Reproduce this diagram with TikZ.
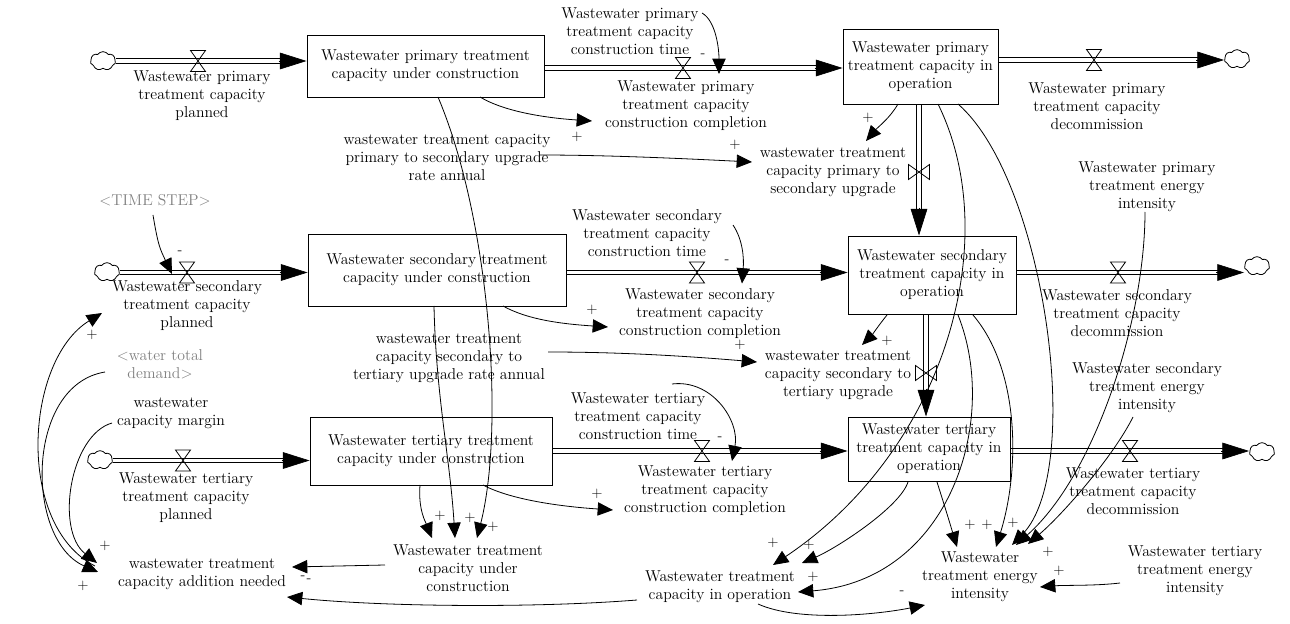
\documentclass[tikz,border=0pt]{standalone}
\usetikzlibrary{arrows.meta,calc,shapes.symbols}
\newcommand{\hpipe}[2]{%
  \draw[pipeline] ($#1+(0,-2.3)$) -- ($#2+(0,-2.3)$);
  \draw[pipeline] ($#1+(0,2.3)$) -- ($#2+(0,2.3)$);}
\newcommand{\vpipe}[2]{%
  \draw[pipeline] ($#1+(-2.3,0)$) -- ($#2+(-2.3,0)$);
  \draw[pipeline] ($#1+(2.3,0)$) -- ($#2+(2.3,0)$);}
\begin{document}
\begin{tikzpicture}[x=0.75pt,y=-0.75pt,
  txt/.style={align=center,font=\fontsize{11.8}{13.5}\selectfont,inner sep=0pt},
  graytxt/.style={txt,text=black!50},
  stock/.style={txt,draw,line width=0.7pt},
  pol/.style={font=\fontsize{11}{12}\selectfont,inner sep=0pt},
  pipeline/.style={line width=0.6pt},
  fhead/.style={line width=0.5pt,-{Triangle[length=20pt,width=12.5pt]}},
  link/.style={line width=0.6pt,-{Triangle[length=11.5pt,width=10pt]}},
  cloudy/.style={cloud,cloud puffs=7,cloud puff arc=110,draw,line width=0.6pt,minimum width=19pt,minimum height=14pt,inner sep=0pt,aspect=1.35},
  valveh/.pic={\draw[line width=0.6pt] (-7.5,-10.5) -- (7.5,-10.5) -- (-7.5,10.5) -- (7.5,10.5) -- cycle;},
  valvev/.pic={\draw[line width=0.6pt] (-10.5,-7.5) -- (-10.5,7.5) -- (10.5,-7.5) -- (10.5,7.5) -- cycle;}
]
\useasboundingbox (0,0) rectangle (1290,624);

% ---------- stocks
\node[stock,minimum width=177.75pt,minimum height=46.5pt] (S1) at (425.5,66) {Wastewater primary treatment\\capacity under construction};
\node[stock,minimum width=116.25pt,minimum height=56.25pt] (S2) at (920.5,66.5) {Wastewater primary\\treatment capacity in\\operation};
\node[stock,minimum width=193.5pt,minimum height=54pt] (S3) at (437,270) {Wastewater secondary treatment\\capacity under construction};
\node[stock,minimum width=126pt,minimum height=58.5pt] (S4) at (932,275) {Wastewater secondary\\treatment capacity in\\operation};
\node[stock,minimum width=181.5pt,minimum height=51pt] (S5) at (431,451) {Wastewater tertiary treatment\\capacity under construction};
\node[stock,minimum width=121.5pt,minimum height=48pt] (S6) at (929,449) {Wastewater tertiary\\treatment capacity in\\operation};

% ---------- clouds
\node[cloudy] (C1L) at (103,61) {};
\node[cloudy] (C1R) at (1237,59) {};
\node[cloudy] (C2L) at (107,272) {};
\node[cloudy] (C2R) at (1257,266) {};
\node[cloudy] (C3L) at (100,460) {};
\node[cloudy] (C3R) at (1262,452) {};

% ---------- valve positions
\coordinate (V1) at (198,61);
\coordinate (V2) at (683,68);
\coordinate (V3) at (1094,60);
\coordinate (V5) at (187,272.5);
\coordinate (V6) at (697,272.5);
\coordinate (V7) at (1118,272.5);
\coordinate (V9) at (183,460.5);
\coordinate (V10) at (702,451);
\coordinate (V11) at (1130,451);
\coordinate (U1) at (919,172);
\coordinate (U2) at (926,373);

% ---------- pipes
\hpipe{(C1L.east|-V1)}{(S1.west|-V1)+(-20,0)}
\draw[fhead] ($(S1.west|-V1)+(-28,0)$) -- (S1.west|-V1);
\hpipe{(S1.east|-V2)}{(S2.west|-V2)+(-20,0)}
\draw[fhead] ($(S2.west|-V2)+(-28,0)$) -- (S2.west|-V2);
\hpipe{(S2.east|-V3)}{(C1R.west|-V3)+(-20,0)}
\draw[fhead] ($(C1R.west|-V3)+(-28,0)$) -- (C1R.west|-V3);

\hpipe{(C2L.east|-V5)}{(S3.west|-V5)+(-20,0)}
\draw[fhead] ($(S3.west|-V5)+(-28,0)$) -- (S3.west|-V5);
\hpipe{(S3.east|-V6)}{(S4.west|-V6)+(-20,0)}
\draw[fhead] ($(S4.west|-V6)+(-28,0)$) -- (S4.west|-V6);
\hpipe{(S4.east|-V7)}{(C2R.west|-V7)+(-20,0)}
\draw[fhead] ($(C2R.west|-V7)+(-28,0)$) -- (C2R.west|-V7);

\hpipe{(C3L.east|-V9)}{(S5.west|-V9)+(-20,0)}
\draw[fhead] ($(S5.west|-V9)+(-28,0)$) -- (S5.west|-V9);
\hpipe{(S5.east|-V10)}{(S6.west|-V10)+(-20,0)}
\draw[fhead] ($(S6.west|-V10)+(-28,0)$) -- (S6.west|-V10);
\hpipe{(S6.east|-V11)}{(C3R.west|-V11)+(-20,0)}
\draw[fhead] ($(C3R.west|-V11)+(-28,0)$) -- (C3R.west|-V11);

\vpipe{(S2.south-|U1)}{(S4.north-|U1)+(0,-20)}
\draw[fhead] ($(S4.north-|U1)+(0,-28)$) -- (S4.north-|U1);
\vpipe{(S4.south-|U2)}{(S6.north-|U2)+(0,-20)}
\draw[fhead] ($(S6.north-|U2)+(0,-28)$) -- (S6.north-|U2);

% ---------- valves
\foreach \v in {V1,V2,V3,V5,V6,V7,V9,V10,V11} \pic at (\v) {valveh};
\pic at (U1) {valvev};
\pic at (U2) {valvev};

% ---------- flow labels
\node[txt] (L1) at (202,96) {Wastewater primary\\treatment capacity\\planned};
\node[txt] (L2) at (686,106) {Wastewater primary\\treatment capacity\\construction completion};
\node[txt] (L3) at (1097,106) {Wastewater primary\\treatment capacity\\decommission};
\node[txt] (L4) at (833,172) {wastewater treatment\\capacity primary to\\secondary upgrade};
\node[txt] (L5) at (187,306) {Wastewater secondary\\treatment capacity\\planned};
\node[txt] (L6) at (700,314) {Wastewater secondary\\treatment capacity\\construction completion};
\node[txt] (L7) at (1117,313) {Wastewater secondary\\treatment capacity\\decommission};
\node[txt] (L8) at (838,375) {wastewater treatment\\capacity secondary to\\tertiary upgrade};
\node[txt] (L9) at (186,498) {Wastewater tertiary\\treatment capacity\\planned};
\node[txt] (L10) at (705,491) {Wastewater tertiary\\treatment capacity\\construction completion};
\node[txt] (L11) at (1133,491) {Wastewater tertiary\\treatment capacity\\decommission};

% ---------- auxiliaries
\node[txt] (T1) at (630,31) {Wastewater primary\\treatment capacity\\construction time};
\node[txt] (T2) at (647,233) {Wastewater secondary\\treatment capacity\\construction time};
\node[txt] (T3) at (638,416) {Wastewater tertiary\\treatment capacity\\construction time};
\node[txt] (R1) at (447,157) {wastewater treatment capacity\\primary to secondary upgrade\\rate annual};
\node[txt] (R2) at (449,358) {wastewater treatment\\capacity secondary to\\tertiary upgrade rate annual};
\node[graytxt] (TS) at (155,200) {\textless TIME STEP\textgreater};
\node[graytxt] (WD) at (160,364) {\textless water total\\demand\textgreater};
\node[txt] (CM) at (171,413) {wastewater\\capacity margin};
\node[txt] (AN) at (202,574) {wastewater treatment\\capacity addition needed};
\node[txt] (UC) at (468,568) {Wastewater treatment\\capacity under\\construction};
\node[txt] (OP) at (720,587) {Wastewater treatment\\capacity in operation};
\node[txt] (EI) at (980,577) {Wastewater\\treatment energy\\intensity};
\node[txt] (PEI) at (1147,187) {Wastewater primary\\treatment energy\\intensity};
\node[txt] (SEI) at (1147,388) {Wastewater secondary\\treatment energy\\intensity};
\node[txt] (TEI) at (1195,571) {Wastewater tertiary\\treatment energy\\intensity};

% ---------- connectors
\draw[link] ($(S1.center)+(54.5,31)$) .. controls +(25,15) and +(-45,-3) .. ($(L2.center)+(-94,15)$);
\draw[link] ($(R1.center)+(93,-2)$) .. controls +(70,0) and +(-60,-3) .. ($(L4.center)+(-81,-10)$);
\draw[link] ($(S2.center)+(-22.5,37.5)$) .. controls +(-8,14) and +(12,-14) .. ($(L4.center)+(33,-31)$);
\draw[link] ($(S3.center)+(66,36)$) .. controls +(25,14) and +(-45,-3) .. ($(L6.center)+(-92,13)$);
\draw[link] ($(R2.center)+(99,-6)$) .. controls +(80,0) and +(-60,-5) .. ($(L8.center)+(-81,-13)$);
\draw[link] ($(S4.center)+(-45,40)$) .. controls +(-8,10) and +(10,-10) .. ($(L8.center)+(24,-30)$);
\draw[link] ($(S5.center)+(52,34)$) .. controls +(30,16) and +(-45,-3) .. ($(L10.center)+(-92,19)$);
\draw[link] ($(S5.center)+(-11,34)$) .. controls +(-2,25) and +(-6,-15) .. ($(UC.center)+(-36,-30)$);
\draw[link] ($(S3.center)+(-3,36)$) .. controls +(2,90) and +(-5,-80) .. ($(UC.center)+(-13,-30)$);
\draw[link] ($(S1.center)+(12.5,31)$) .. controls +(52,123) and +(28,-110) .. ($(UC.center)+(9,-30)$);
\draw[link] ($(UC.center)+(-83,-3)$) -- ($(AN.center)+(90,-7)$);
\draw[link] ($(OP.center)+(-83,13)$) .. controls +(-100,8) and +(100,10) .. ($(AN.center)+(85,23)$);
\draw[link] ($(OP.center)+(38,17)$) .. controls +(40,18) and +(-50,10) .. ($(EI.center)+(-55,28)$);
\draw[link] ($(AN.center)+(-107,-8)$) .. controls +(-80,-41) and +(-77,47) .. ($(L5.center)+(-85,7)$);
\draw[link] ($(WD.center)+(-55,8)$) .. controls +(-80,13) and +(-73,-32) .. ($(AN.center)+(-104,-2)$);
\draw[link] ($(CM.center)+(-59,10)$) .. controls +(-42,12) and +(-42,-33) .. ($(AN.center)+(-105,-11)$);
\draw[link] ($(TS.center)+(-2,15)$) .. controls +(5,30) and +(-12,-25) .. ($(V5)+(-15,1.5)$);
\draw[link] ($(T1.center)+(72,-18)$) .. controls +(14,8) and +(0,-25) .. ($(V2)+(36,6)$);
\draw[link] ($(T2.center)+(86,-8)$) .. controls +(10,15) and +(2,-25) .. ($(V6)+(45,11)$);
\draw[link] ($(T3.center)+(34,-32)$) .. controls +(40,-5) and +(8,-40) .. ($(V10)+(30,10)$);
\draw[link] ($(S2.center)+(17.5,37.5)$) .. controls +(67,136) and +(172,-115) .. ($(OP.center)+(53,-22)$);
\draw[link] ($(S4.center)+(26,40)$) .. controls +(42,105) and +(152,-12) .. ($(OP.center)+(78,5)$);
\draw[link] ($(S6.center)+(-21,33)$) .. controls +(-8,25) and +(35,-15) .. ($(OP.center)+(82,-24)$);
\draw[link] ($(S6.center)+(8,33)$) .. controls +(8,25) and +(-6,-20) .. ($(EI.center)+(-23,-30)$);
\draw[link] ($(S4.center)+(41,40)$) .. controls +(47,55) and +(24,-77) .. ($(EI.center)+(16,-30)$);
\draw[link] ($(S2.center)+(37.5,37.5)$) .. controls +(87,76) and +(73,-75) .. ($(EI.center)+(32,-32)$);
\draw[link] ($(PEI.center)+(-2,25)$) .. controls +(0,108) and +(79,-70) .. ($(EI.center)+(36,-32)$);
\draw[link] ($(SEI.center)+(-14,29)$) .. controls +(-20,40) and +(35,-30) .. ($(EI.center)+(48,-33)$);
\draw[link] ($(TEI.center)+(-75,12)$) .. controls +(-25,3) and +(25,-2) .. ($(EI.center)+(60,10)$);

% ---------- polarities
\node[pol] (p1) at (577,137) {+};
\node[pol] (p2) at (735,145) {+};
\node[pol] (p3) at (868,118) {+};
\node[pol] (p4) at (703,56) {-};
\node[pol] (p5) at (180,253) {-};
\node[pol] (p6) at (92,335) {+};
\node[pol] (p7) at (727,262) {-};
\node[pol] (p8) at (592,310) {+};
\node[pol] (p9) at (740,345) {+};
\node[pol] (p10) at (887,341) {+};
\node[pol] (p11) at (720,439) {-};
\node[pol] (p12) at (597,494) {+};
\node[pol] (p13) at (440,516) {+};
\node[pol] (p14) at (470,518) {+};
\node[pol] (p15) at (493,527) {+};
\node[pol] (p16) at (105,546) {+};
\node[pol] (p17) at (83,586) {+};
\node[pol] (p18) at (303,578) {-};
\node[pol] (p19) at (309,581) {-};
\node[pol] (p20) at (773,543) {+};
\node[pol] (p21) at (809,545) {+};
\node[pol] (p22) at (813,577) {+};
\node[pol] (p23) at (902,593) {-};
\node[pol] (p24) at (970,525) {+};
\node[pol] (p25) at (987,525) {+};
\node[pol] (p26) at (1013,523) {+};
\node[pol] (p27) at (1048,552) {+};
\node[pol] (p28) at (1059,571) {+};
\end{tikzpicture}
\end{document}
